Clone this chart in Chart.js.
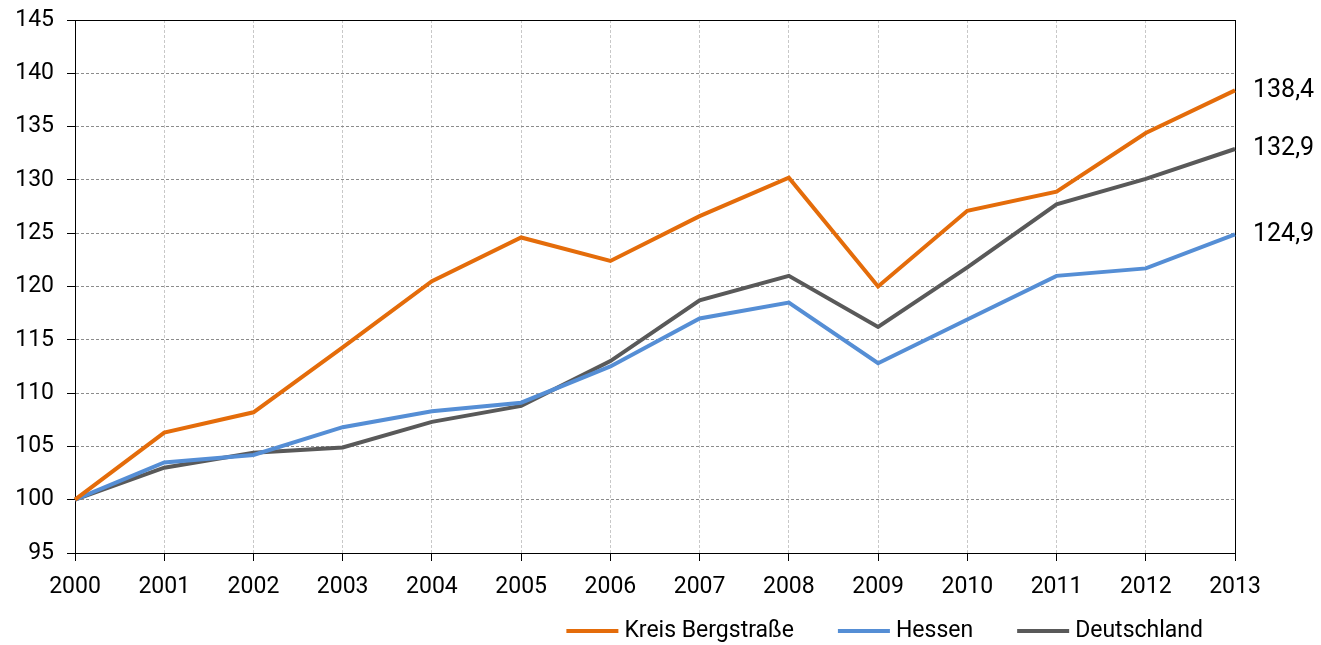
<!DOCTYPE html>
<html>
<head>
<meta charset="utf-8">
<title>Entwicklung 2000 = 100</title>
<script src="https://cdn.jsdelivr.net/npm/chart.js"></script>
<style>
    html, body { margin: 0; padding: 0; background: #fff; }
    .wrap { width: 1321px; height: 645px; }
</style>
</head>
<body>
<div class="wrap"><canvas id="indexChart"></canvas></div>

<script>
// Daten (Index 2000 = 100)
const years = ['2000', '2001', '2002', '2003', '2004', '2005', '2006',
               '2007', '2008', '2009', '2010', '2011', '2012', '2013'];
const bergstrasse = [100, 106.3, 108.2, 114.3, 120.5, 124.6, 122.4, 126.6, 130.2, 120.0, 127.1, 128.9, 134.4, 138.4];
const hessen      = [100, 103.5, 104.2, 106.8, 108.3, 109.1, 112.5, 117.0, 118.5, 112.8, 116.9, 121.0, 121.7, 124.9];
const deutschland = [100, 103.0, 104.4, 104.9, 107.3, 108.8, 113.0, 118.7, 121.0, 116.2, 121.8, 127.7, 130.1, 132.9];
const yTicks = [95, 100, 105, 110, 115, 120, 125, 130, 135, 140, 145];

const seriesNames = ['Kreis Bergstraße', 'Hessen', 'Deutschland'];
const seriesColors = ['#E46C0A', '#558ED5', '#595959'];

const FONT = 'Roboto, "Liberation Sans", sans-serif';
Chart.defaults.font.family = FONT;
Chart.defaults.color = '#000';

// Rahmen um die Zeichenfläche
const frame = {
    id: 'frame',
    beforeDatasetsDraw(chart) {
        const { ctx, chartArea: a } = chart;
        ctx.save();
        ctx.strokeStyle = '#000';
        ctx.lineWidth = 1;
        ctx.setLineDash([]);
        ctx.strokeRect(a.left + 0.5, a.top + 0.5, a.right - a.left, a.bottom - a.top);
        ctx.restore();
    }
};

// Endwerte rechts neben der letzten Jahreszahl
const endLabels = {
    id: 'endLabels',
    afterDatasetsDraw(chart) {
        const { ctx } = chart;
        ctx.save();
        ctx.font = '25px ' + FONT;
        ctx.fillStyle = '#000';
        ctx.textAlign = 'left';
        ctx.textBaseline = 'middle';
        chart.data.datasets.forEach((ds, i) => {
            const meta = chart.getDatasetMeta(i);
            const last = meta.data[meta.data.length - 1];
            const v = ds.data[ds.data.length - 1];
            ctx.fillText(v.toFixed(1).replace('.', ','), last.x + 18, last.y);
        });
        ctx.restore();
    }
};

// Legende unten rechts, Linien-Symbole
const lineLegend = {
    id: 'lineLegend',
    afterDraw(chart) {
        const { ctx, chartArea: a } = chart;
        const lineW = 52, gap = 6, spacing = 44;
        ctx.save();
        ctx.font = '23px ' + FONT;
        ctx.textBaseline = 'middle';
        ctx.textAlign = 'left';
        const y = a.bottom + 78;
        let x = a.right - 32;
        for (let i = chart.data.datasets.length - 1; i >= 0; i--) {
            const ds = chart.data.datasets[i];
            const tw = ctx.measureText(ds.label).width;
            const textX = x - tw;
            const lineX = textX - gap - lineW;
            ctx.fillStyle = ds.borderColor;
            ctx.fillRect(lineX, y - 2, lineW, 4);
            ctx.fillStyle = '#000';
            ctx.fillText(ds.label, textX, y);
            x = lineX - spacing;
        }
        ctx.restore();
    }
};

const makeSet = (label, data, color) => ({
    label: label,
    data: data,
    borderColor: color,
    backgroundColor: color,
    borderWidth: 4,
    pointRadius: 0,
    pointHoverRadius: 0,
    tension: 0,
    fill: false
});

new Chart(document.getElementById('indexChart'), {
    type: 'line',
    data: {
        labels: years,
        datasets: [
            makeSet(seriesNames[0], bergstrasse, seriesColors[0]),
            makeSet(seriesNames[1], hessen, seriesColors[1]),
            makeSet(seriesNames[2], deutschland, seriesColors[2])
        ]
    },
    options: {
        responsive: true,
        maintainAspectRatio: false,
        animation: false,
        layout: { padding: { top: 20, right: 86, left: 0, bottom: 52 } },
        plugins: {
            tooltip: { enabled: false },
            legend: { display: false }
        },
        scales: {
            x: {
                offset: false,
                grid: {
                    color: '#c8c8c8',
                    tickColor: '#000',
                    tickLength: 8,
                    tickBorderDash: [],
                    borderDash: [3, 2]
                },
                border: { color: '#000', width: 1, dash: [3, 2] },
                ticks: { font: { size: 23 }, color: '#000', padding: 12, maxRotation: 0 },
                afterFit(scale) { scale.height = 40; }
            },
            y: {
                min: 95,
                max: 145,
                afterBuildTicks(scale) { scale.ticks = yTicks.map(v => ({ value: v })); },
                grid: {
                    color: '#8c8c8c',
                    tickColor: '#000',
                    tickLength: 8,
                    tickBorderDash: []
                },
                border: { color: '#000', width: 1, dash: [3, 2] },
                ticks: { font: { size: 23 }, color: '#000', padding: 13 },
                afterFit(scale) {
                    scale.width = 75;
                    scale.paddingTop = 0;
                    scale.paddingBottom = 0;
                }
            }
        }
    },
    plugins: [frame, endLabels, lineLegend]
});
</script>
</body>
</html>
